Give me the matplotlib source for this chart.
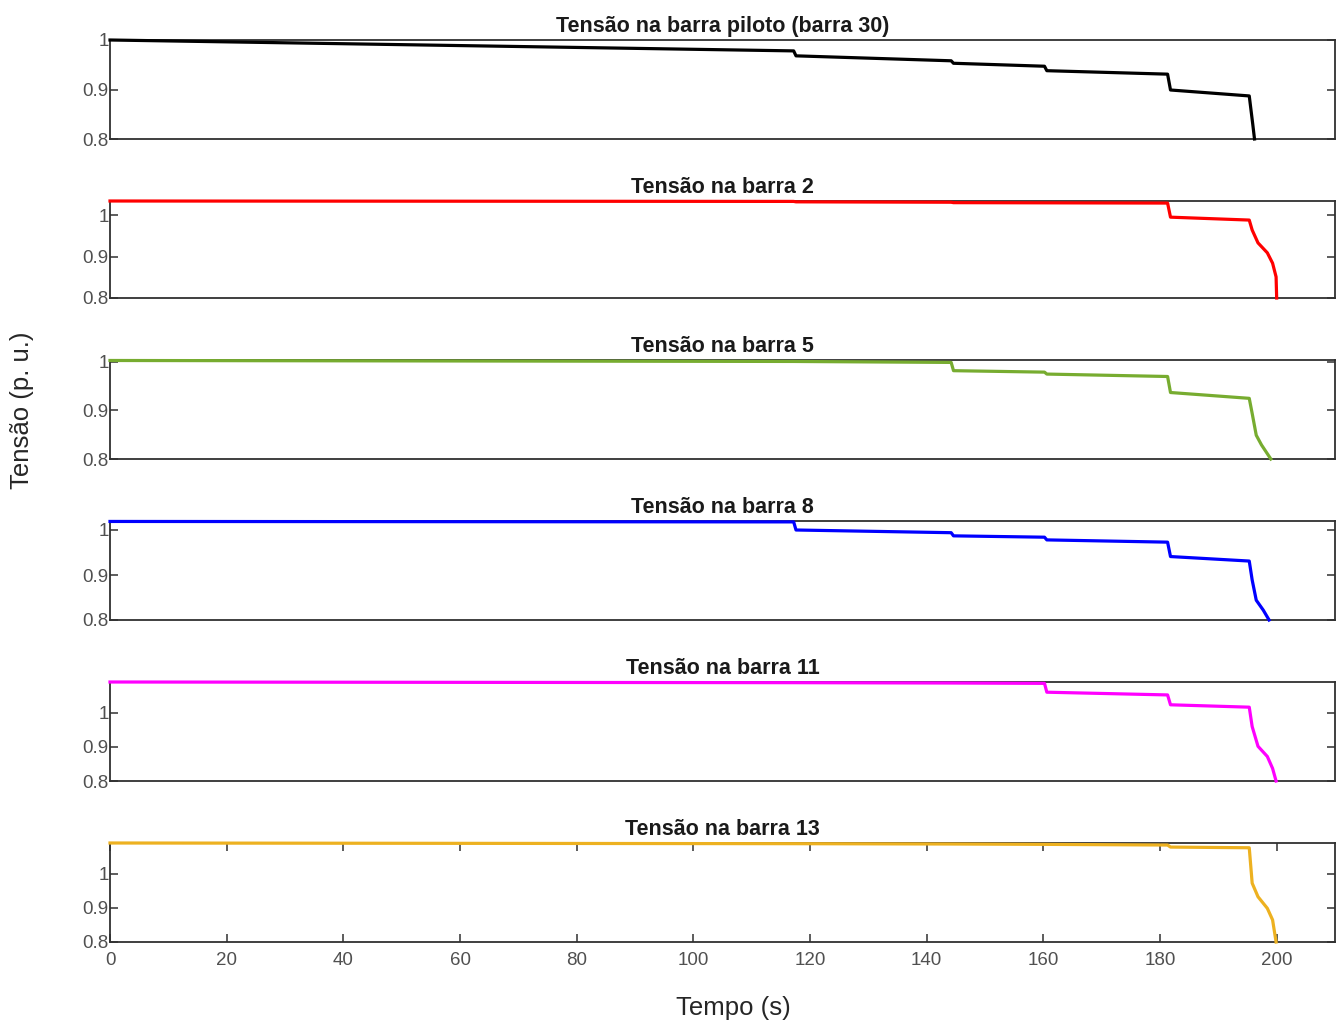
import numpy as np
import matplotlib
matplotlib.use('Agg')
import matplotlib.pyplot as plt

plt.rcParams['font.family'] = ['Liberation Sans', 'DejaVu Sans']

# time (s) / voltage (p.u.), one pair per bus
t_b30 = [0, 117.2, 117.6, 144.2, 144.6, 160.2, 160.6, 181.3, 181.8, 195.3, 195.9, 196.2]
v_b30 = [1.0, 0.978, 0.968, 0.958, 0.953, 0.947, 0.938, 0.931, 0.899, 0.887, 0.83, 0.80]

t_b2 = [0, 117.2, 117.6, 144.2, 144.6, 181.3, 181.8, 195.3, 195.8, 196.8, 198.4, 199.3, 199.9, 200.0]
v_b2 = [1.034, 1.033, 1.032, 1.031, 1.030, 1.029, 0.995, 0.988, 0.964, 0.933, 0.909, 0.884, 0.851, 0.80]

t_b5 = [0, 117.2, 144.2, 144.6, 160.2, 160.6, 181.3, 181.8, 195.3, 195.8, 196.5, 197.4, 199.0]
v_b5 = [1.003, 1.001, 0.999, 0.982, 0.979, 0.975, 0.970, 0.937, 0.925, 0.894, 0.849, 0.829, 0.80]

t_b8 = [0, 117.2, 117.6, 144.2, 144.6, 160.2, 160.6, 181.3, 181.8, 195.3, 195.8, 196.5, 197.7, 198.7]
v_b8 = [1.019, 1.018, 1.000, 0.994, 0.987, 0.984, 0.978, 0.973, 0.941, 0.931, 0.889, 0.844, 0.822, 0.80]

t_b11 = [0, 117.2, 144.2, 160.2, 160.6, 181.3, 181.8, 195.3, 195.8, 196.8, 198.4, 199.3, 199.9]
v_b11 = [1.091, 1.089, 1.088, 1.087, 1.061, 1.053, 1.024, 1.017, 0.96, 0.902, 0.872, 0.837, 0.80]

t_b13 = [0, 117.2, 144.2, 160.2, 181.3, 181.8, 195.3, 195.8, 196.8, 198.4, 199.3, 199.9]
v_b13 = [1.091, 1.089, 1.088, 1.087, 1.085, 1.079, 1.077, 0.973, 0.933, 0.899, 0.865, 0.80]

titles = ['Tensão na barra piloto (barra 30)', 'Tensão na barra 2', 'Tensão na barra 5',
          'Tensão na barra 8', 'Tensão na barra 11', 'Tensão na barra 13']
series = [(t_b30, v_b30), (t_b2, v_b2), (t_b5, v_b5), (t_b8, v_b8), (t_b11, v_b11), (t_b13, v_b13)]
colors = ['#000000', '#ff0000', '#77ac30', '#0000ff', '#ff00ff', '#edb120']
ytops = [1.0, 1.034, 1.004, 1.02, 1.091, 1.091]
yticks = [0.8, 0.9, 1.0]
yticklabels = ['0.8', '0.9', '1']
xticks = np.arange(0, 201, 20)

W, H = 1338, 1026
fig = plt.figure(figsize=(W / 100, H / 100), dpi=100)

# panel frame (top, bottom) in pixels
frames = [(40, 139), (201, 298), (360, 459), (521, 620), (682, 781), (843, 942)]
left, right = 110, 1335
frame_col = '#303030'
tick_col = '#505050'

for i, ((top, bot), (t, v)) in enumerate(zip(frames, series)):
    ax = fig.add_axes([left / W, 1 - bot / H, (right - left) / W, (bot - top) / H])
    ax.plot(t, v, color=colors[i], lw=2.3, clip_on=False, zorder=3)
    ax.set_xlim(0, 210)
    ax.set_ylim(0.8, ytops[i])
    ax.set_yticks(yticks)
    ax.set_yticklabels(yticklabels)
    for s in ax.spines.values():
        s.set_color(frame_col)
        s.set_linewidth(1.3)
    ax.tick_params(axis='y', direction='in', left=True, right=True, length=6,
                   width=1.1, color=frame_col, labelsize=13.5, labelcolor=tick_col, pad=1)
    if i == len(frames) - 1:
        ax.set_xticks(xticks)
        ax.tick_params(axis='x', direction='in', top=True, bottom=True, length=6,
                       width=1.1, color=frame_col, labelsize=13.5, labelcolor=tick_col, pad=7)
    else:
        ax.set_xticks([])
    ax.set_title(titles[i], fontsize=15.5, fontweight='bold', color='#1a1a1a', pad=6)

fig.text(22 / W, 1 - 410 / H, 'Tensão (p. u.)', rotation=90, ha='center', va='center',
         fontsize=18.5, color='#262626')
fig.text(733 / W, 1 - 1008 / H, 'Tempo (s)', ha='center', va='center',
         fontsize=18.5, color='#262626')

fig.savefig('out.png', dpi=100)
